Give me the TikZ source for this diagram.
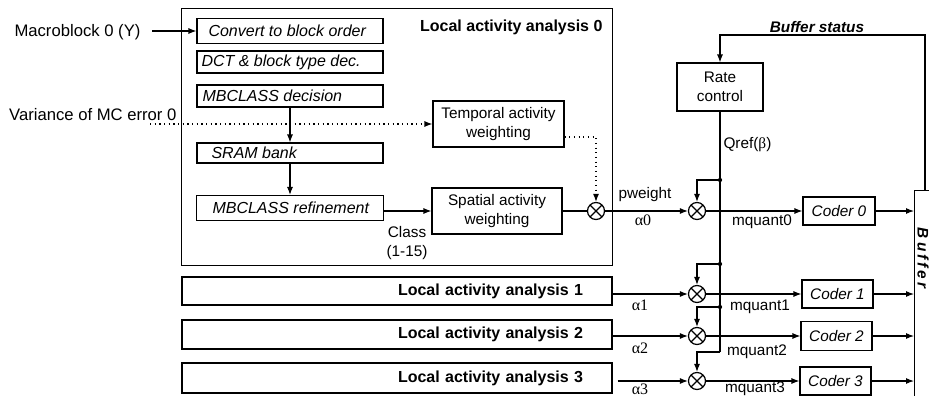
\documentclass[tikz,border=0pt]{standalone}
\usepackage{fontspec}
\setmainfont{Liberation Sans}
\newfontfamily\greekfont{Liberation Serif}
\usetikzlibrary{arrows.meta}

\tikzset{
  sz/.style 2 args={minimum width={(#1)*0.75pt}, minimum height={(#2)*0.75pt}},
  every node/.style={font=\fontsize{11.5}{14}\selectfont, inner sep=0pt},
  box/.style={draw, line width=0.8pt, inner sep=0pt},
  bigbox/.style={draw, line width=0.7pt, inner sep=0pt},
  itext/.style={anchor=west, font=\fontsize{12}{14}\selectfont\itshape},
  btitle/.style={font=\fontsize{12}{14}\selectfont\bfseries},
  inlabel/.style={font=\fontsize{12.5}{15}\selectfont},
  alab/.style={font=\fontsize{12}{14}\selectfont\greekfont},
  coder/.style={box, font=\fontsize{11.5}{14}\selectfont\itshape},
  mult/.style={circle, draw, line width=0.9pt, minimum size={17*0.75pt}, inner sep=0pt,
    path picture={\draw[line width=0.9pt]
      (path picture bounding box.north west) -- (path picture bounding box.south east)
      (path picture bounding box.south west) -- (path picture bounding box.north east);}},
  dotline/.style={line width=0.9pt, dash pattern=on 0.9pt off 2.6pt},
  junction/.style={fill},
}

\begin{document}
\begin{tikzpicture}[x=0.75pt, y=-0.75pt, line width=0.8pt,
  >={Latex[length=6pt, width=4.5pt]}]
\useasboundingbox (0,0) rectangle (929,396);
\clip (0,0) rectangle (929,396);

% ---- local activity analysis, block 0 ----
\node[bigbox, sz={431}{257}] (lab0) at (396.5,136.5) {};
\node[btitle, anchor=east] (lab0t) at (603,27) {Local activity analysis 0};

\node[box, sz={186}{25}] (conv) at (290,31) {};
\node[itext] (convt) at (208,31) {Convert to block order};
\node[box, sz={186}{22}] (dct) at (290,62) {};
\node[itext] (dctt) at (201,62) {DCT \& block type dec.};
\node[box, sz={186}{22}] (mbd) at (290,96) {};
\node[itext] (mbdt) at (202,96) {MBCLASS decision};
\node[box, sz={186}{20}] (sram) at (290,153) {};
\node[itext] (sramt) at (211,153) {SRAM bank};
\node[box, sz={187}{25}] (mbr) at (290,208) {};
\node[itext] (mbrt) at (212,208) {MBCLASS refinement};

\node[box, sz={131}{46}, align=center] (temp) at (498.5,124) {Temporal activity\\weighting};
\node[box, sz={130}{46}, align=center] (spat) at (497,211) {Spatial activity\\weighting};
\node[mult] (xp) at (596,211) {};

\node[align=center] (cls) at (407,243) {Class\\(1-15)};

% ---- inputs ----
\node[inlabel, anchor=east] (mb) at (141,32) {Macroblock 0 (Y)};
\coordinate (mbs) at (152,31);
\draw[->] (mbs) -- (conv.west);

\node[inlabel, anchor=east] (var) at (177,115) {Variance of MC error 0};
\coordinate (vs) at (150,124);
\draw[dotline, ->] (vs) -- (temp.west);

\draw[->] (mbd.south) -- (sram.north);
\draw[->] (sram.south) -- (mbr.north);
\draw[->] (mbr.east |- spat.west) -- (spat.west);

\coordinate (tq) at (596,137);
\draw[dotline, ->] (temp.east |- tq) -- (tq) -- (xp.north);
\draw (spat.east) -- (xp.west);

% ---- blocks 1 to 3 ----
\node[box, sz={430}{28}, btitle, text width={372*0.75pt}, align=right,
  inner xsep={29*0.75pt}] (lab1) at (397,291) {Local activity analysis 1};
\node[box, sz={430}{29}, btitle, text width={372*0.75pt}, align=right,
  inner xsep={29*0.75pt}] (lab2) at (397,334.5) {Local activity analysis 2};
\node[box, sz={430}{30}, btitle, text width={372*0.75pt}, align=right,
  inner xsep={29*0.75pt}] (lab3) at (397,378) {Local activity analysis 3};

% ---- multipliers ----
\node[mult] (x0) at (697,211) {};
\node[mult] (x1) at (697,294) {};
\node[mult] (x2) at (697,336) {};
\node[mult] (x3) at (697,381) {};

\draw[->] (xp.east) -- (x0.west);
\node (pw) at (645,195) {pweight};
\node[alab] (a0) at (643,220) {α0};

\draw[->] (lab1.east |- x1.west) -- (x1.west);
\node[alab] (a1) at (640,305) {α1};
\draw[->] (lab2.east |- x2.west) -- (x2.west);
\node[alab] (a2) at (640,348) {α2};
\draw[->] ([xshift=3.75pt]lab3.east |- x3.west) -- (x3.west);
\node[alab] (a3) at (640,389) {α3};

% ---- rate control ----
\node[box, sz={86}{48}, align=center] (rc) at (720,87) {Rate\\control};
\node[anchor=west] (qref) at (723,145) {Qref({\greekfont β})};

\coordinate (j0) at (720,180);
\coordinate (j1) at (720,264);
\coordinate (j2) at (720,307);
\coordinate (qb) at (720,352);
\draw (rc.south) -- (qb);
\draw[->] (j0) -- (j0 -| x0) -- (x0.north);
\draw[->] (j1) -- (j1 -| x1) -- (x1.north);
\draw[->] (j2) -- (j2 -| x2) -- (x2.north);
\draw[->] (qb) -- (qb -| x3) -- (x3.north);
\fill[junction] (j0) circle (1.6pt);
\fill[junction] (j1) circle (1.6pt);
\fill[junction] (j2) circle (1.6pt);

% ---- coders and buffer ----
\node[coder, sz={72}{28}] (c0) at (839,211) {Coder 0};
\node[coder, sz={71}{28}] (c1) at (837.5,294) {Coder 1};
\node[coder, sz={71}{29}] (c2) at (836.5,336) {Coder 2};
\node[coder, sz={71}{28}] (c3) at (835.5,381) {Coder 3};

\draw[->] (x0.east) -- (x0.east -| c0.west);
\draw[->] (x1.east) -- (x1.east -| c1.west);
\draw[->] (x2.east) -- (x2.east -| c2.west);
\draw[->] (x3.east) -- (x3.east -| c3.west);
\node (m0) at (762,222) {mquant0};
\node (m1) at (760,307) {mquant1};
\node (m2) at (757,352) {mquant2};
\node (m3) at (755,389) {mquant3};

\node[box, sz={60}{240}, anchor=north west] (buf) at (914,190) {};
\node[rotate=-90, font=\fontsize{11.5}{14}\selectfont\bfseries\itshape\addfontfeature{LetterSpace=20}] (buft) at (923,258) {Buffer};

\draw[->] (c0.east) -- (c0.east -| buf.west);
\draw[->] (c1.east) -- (c1.east -| buf.west);
\draw[->] (c2.east) -- (c2.east -| buf.west);
\draw[->] (c3.east) -- (c3.east -| buf.west);

\coordinate (bs) at (925,35);
\draw[->] (buf.north -| bs) -- (bs) -- (bs -| rc.north) -- (rc.north);
\node[font=\fontsize{11.5}{14}\selectfont\bfseries\itshape] (bst) at (817,27) {Buffer status};

\end{tikzpicture}
\end{document}
